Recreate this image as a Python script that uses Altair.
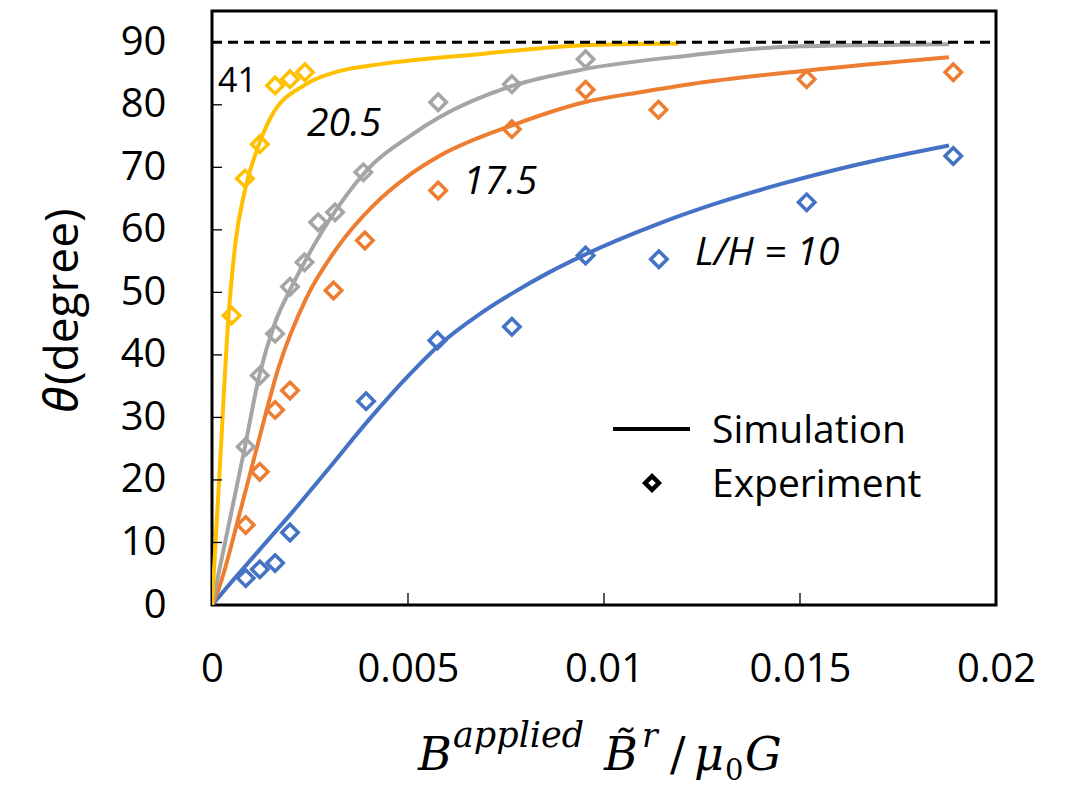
import altair as alt
import pandas as pd

# ---------------- data ----------------
series_names = ["L/H = 10", "17.5", "20.5", "41"]
series_colors = ["#4472C4", "#ED7D31", "#A5A5A5", "#FFC000"]

# simulation curves
sim_x_10 = [0, 0.0005, 0.001, 0.0015, 0.002, 0.003, 0.004, 0.005, 0.0058, 0.0068, 0.0077, 0.0086, 0.0095, 0.0114, 0.013, 0.0145, 0.0165, 0.0188]
sim_y_10 = [0, 3.7, 7.3, 10.9, 14.5, 22.0, 29.6, 36.6, 41.6, 46.4, 50.0, 53.2, 56.0, 61.0, 64.5, 67.3, 70.5, 73.5]

sim_x_175 = [0, 0.00016, 0.0007, 0.0012, 0.0017, 0.0024, 0.0032, 0.0041, 0.005, 0.0058, 0.0077, 0.0095, 0.011, 0.0122, 0.0152, 0.0188]
sim_y_175 = [0, 2.4, 14.5, 26.5, 38.0, 49.0, 57.2, 63.8, 68.6, 71.8, 76.8, 80.4, 82.1, 83.3, 85.5, 87.6]

sim_x_205 = [0, 0.0004, 0.00084, 0.0012, 0.0016, 0.002, 0.0024, 0.0032, 0.0041, 0.005, 0.0058, 0.0077, 0.0095, 0.0122, 0.0147, 0.0188]
sim_y_205 = [0, 12.0, 25.3, 36.5, 45.0, 50.5, 55.3, 63.5, 70.5, 74.8, 78.0, 83.1, 85.7, 87.9, 89.3, 89.7]

sim_x_41 = [0, 0.0001, 0.0002, 0.00042, 0.0006, 0.00084, 0.0012, 0.0015, 0.0024, 0.0032, 0.0043, 0.0068, 0.0094, 0.0119]
sim_y_41 = [0, 11.0, 22.0, 46.0, 58.0, 66.3, 73.7, 78.0, 83.3, 85.3, 86.5, 88.1, 89.5, 89.8]

# experiments
exp_x_10 = [0.00086, 0.00122, 0.00161, 0.00199, 0.00393, 0.00575, 0.00765, 0.00953, 0.0114, 0.01517, 0.01891]
exp_y_10 = [4.3, 5.7, 6.7, 11.6, 32.6, 42.3, 44.5, 55.9, 55.3, 64.4, 71.8]

exp_x_175 = [0.00086, 0.00122, 0.00161, 0.00199, 0.0031, 0.0039, 0.00577, 0.00765, 0.00953, 0.01139, 0.01517, 0.01891]
exp_y_175 = [12.8, 21.3, 31.2, 34.3, 50.3, 58.3, 66.3, 76.1, 82.4, 79.2, 84.1, 85.2]

exp_x_205 = [0.00086, 0.00122, 0.00161, 0.00199, 0.00236, 0.00271, 0.00314, 0.00386, 0.00577, 0.00765, 0.00953]
exp_y_205 = [25.3, 36.7, 43.4, 50.9, 54.8, 61.2, 62.8, 69.2, 80.4, 83.3, 87.3]

exp_x_41 = [0.0005, 0.00084, 0.00122, 0.00161, 0.00199, 0.00237]
exp_y_41 = [46.3, 68.2, 73.7, 83.1, 84.1, 85.2]

x_ticks = [0, 0.005, 0.01, 0.015, 0.02]
y_ticks = [0, 10, 20, 30, 40, 50, 60, 70, 80, 90]
limit_angle = [90]

# ---------------- tables ----------------
def table(name, xs, ys):
    return pd.DataFrame({"series": name, "x": xs, "y": ys, "o": list(range(len(xs)))})

sim = pd.concat([
    table(series_names[0], sim_x_10, sim_y_10),
    table(series_names[1], sim_x_175, sim_y_175),
    table(series_names[2], sim_x_205, sim_y_205),
    table(series_names[3], sim_x_41, sim_y_41),
])
exp = pd.concat([
    table(series_names[0], exp_x_10, exp_y_10),
    table(series_names[1], exp_x_175, exp_y_175),
    table(series_names[2], exp_x_205, exp_y_205),
    table(series_names[3], exp_x_41, exp_y_41),
])

W, H = 784, 594
FONT = "Open Sans"
SERIF = "DejaVu Serif"

xscale = alt.Scale(domain=[0, 0.02], nice=False, zero=False)
yscale = alt.Scale(domain=[0, 95], nice=False, zero=False)
cscale = alt.Scale(domain=series_names, range=series_colors)

x_axis = alt.Axis(values=x_ticks, labelExpr="'' + datum.value", title=None,
                  labelFont=FONT, labelFontSize=40, labelColor="#000", labelPadding=44,
                  labelFlush=False, labelOverlap=False, ticks=False, domain=False, grid=False)
y_axis = alt.Axis(values=y_ticks, title=None, labelFont=FONT, labelFontSize=40,
                  labelColor="#000", labelPadding=46, ticks=False, domain=False, grid=False)

X = lambda f: alt.X(f, scale=xscale, axis=x_axis)
Y = lambda f: alt.Y(f, scale=yscale, axis=y_axis)

lines = alt.Chart(sim).mark_line(strokeWidth=4, clip=True, interpolate="monotone").encode(
    x=X("x:Q"),
    y=Y("y:Q"),
    color=alt.Color("series:N", scale=cscale, legend=None),
    order="o:Q",
    detail="series:N",
)

points = alt.Chart(exp).mark_point(shape="diamond", filled=False, size=270, strokeWidth=3.5, opacity=1).encode(
    x=X("x:Q"),
    y=Y("y:Q"),
    color=alt.Color("series:N", scale=cscale, legend=None),
)

dash = alt.Chart(pd.DataFrame({"v": limit_angle})).mark_rule(
    color="black", strokeWidth=3, strokeDash=[10, 6]).encode(
    y=Y("v:Q"),
    x=alt.value(0), x2=alt.value(W),
)

ytick_rules = alt.Chart(pd.DataFrame({"v": y_ticks[1:]})).mark_rule(color="black", strokeWidth=1.3).encode(
    y=Y("v:Q"), x=alt.value(0), x2=alt.value(10))
xtick_rules = alt.Chart(pd.DataFrame({"v": x_ticks[1:-1]})).mark_rule(color="black", strokeWidth=1.3).encode(
    x=X("v:Q"), y=alt.value(H), y2=alt.value(H - 12))

one = pd.DataFrame({"a": [0]})

def txt(t, x, y, size, font=FONT, style="normal", align="left", baseline="alphabetic", angle=0):
    kw = dict(text=t, font=font, fontSize=size, fontStyle=style, align=align,
              baseline=baseline, color="#000")
    if angle:
        kw["angle"] = angle
    return alt.Chart(one).mark_text(**kw).encode(x=alt.value(x), y=alt.value(y))

annotations = [
    txt("41", 6, 81, 34),
    txt("20.5", 95, 125, 39, style="italic"),
    txt("17.5", 251, 183, 39, style="italic"),
    txt("L/H = 10", 483, 254, 39, style="italic"),
]

# legend
legend_line = alt.Chart(one).mark_rule(color="black", strokeWidth=4).encode(
    x=alt.value(401), x2=alt.value(478), y=alt.value(418))
legend_pt = alt.Chart(one).mark_point(shape="diamond", filled=False, size=190, strokeWidth=4.5,
                                       color="black", opacity=1).encode(
    x=alt.value(440), y=alt.value(472))
legend_txt = [
    txt("Simulation", 500, 432, 39),
    txt("Experiment", 500, 486, 39),
]

# y-axis title
ytitle = [
    txt("\u03b8", -148, 402, 48, font="Noto Sans", style="italic", baseline="middle", angle=270),
    txt("(degree)", -148, 374, 46, baseline="middle", angle=270),
]

# x-axis title
xtitle = [
    txt("B", 206, 759, 46, font=SERIF, style="italic"),
    txt("applied", 241, 736, 35, font=SERIF, style="italic"),
    txt("B\u0303", 392, 759, 46, font=SERIF, style="italic"),
    txt("r", 430, 736, 33, font=SERIF, style="italic"),
    txt("/", 458, 759, 46, font=SERIF),
    txt("\u03bc", 482, 759, 46, font=SERIF, style="italic"),
    txt("0", 513, 769, 29, font=SERIF),
    txt("G", 533, 759, 46, font=SERIF, style="italic"),
]

chart = alt.layer(
    lines, dash, ytick_rules, xtick_rules, points,
    *annotations, legend_line, legend_pt, *legend_txt, *ytitle, *xtitle,
).properties(
    width=W, height=H,
    autosize=alt.AutoSizeParams(type="none"),
    padding={"left": 204, "top": 3, "right": 40, "bottom": 190},
).configure_view(stroke="black", strokeWidth=3)

chart.save("out.html", embed_options={"renderer": "svg", "actions": False})
